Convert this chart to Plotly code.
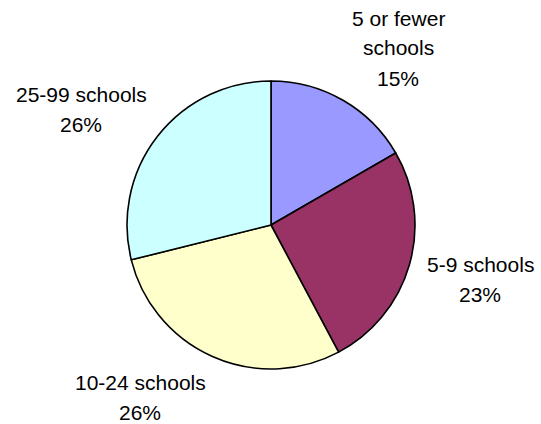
import plotly.graph_objects as go

# Data
categories = ["5 or fewer<br>schools", "5-9 schools", "10-24 schools", "25-99 schools"]
values = [15, 23, 26, 26]
pct_labels = ["15%", "23%", "26%", "26%"]
colors = ["#9999FF", "#993366", "#FFFFCC", "#CCFFFF"]

W, H = 541, 424
# pie geometry (pixels)
cx, cy, r = 271, 225, 144

# label centers (pixels): (x, y of first line)
label_pos = [(398, 18), (480, 264), (140, 382), (81, 94)]
line_gap = 30

fig = go.Figure(go.Pie(
    labels=categories,
    values=values,
    sort=False,
    direction="clockwise",
    rotation=0,
    textinfo="none",
    hoverinfo="label+percent",
    marker=dict(colors=colors, line=dict(color="black", width=1.6)),
    domain=dict(x=[(cx - r) / W, (cx + r) / W], y=[1 - (cy + r) / H, 1 - (cy - r) / H]),
    showlegend=False,
))

annotations = []
for cat, pct, (px, py) in zip(categories, pct_labels, label_pos):
    lines = cat.split("<br>") + [pct]
    for i, ln in enumerate(lines):
        annotations.append(dict(
            x=px / W, y=1 - (py + i * line_gap) / H, xref="paper", yref="paper",
            text=ln, showarrow=False, xanchor="center", yanchor="middle",
            font=dict(family="Arial, Liberation Sans, sans-serif", size=21, color="black"),
        ))

fig.update_layout(
    width=W, height=H,
    margin=dict(l=0, r=0, t=0, b=0),
    paper_bgcolor="white",
    plot_bgcolor="white",
    annotations=annotations,
)

fig.write_html("out.html")
